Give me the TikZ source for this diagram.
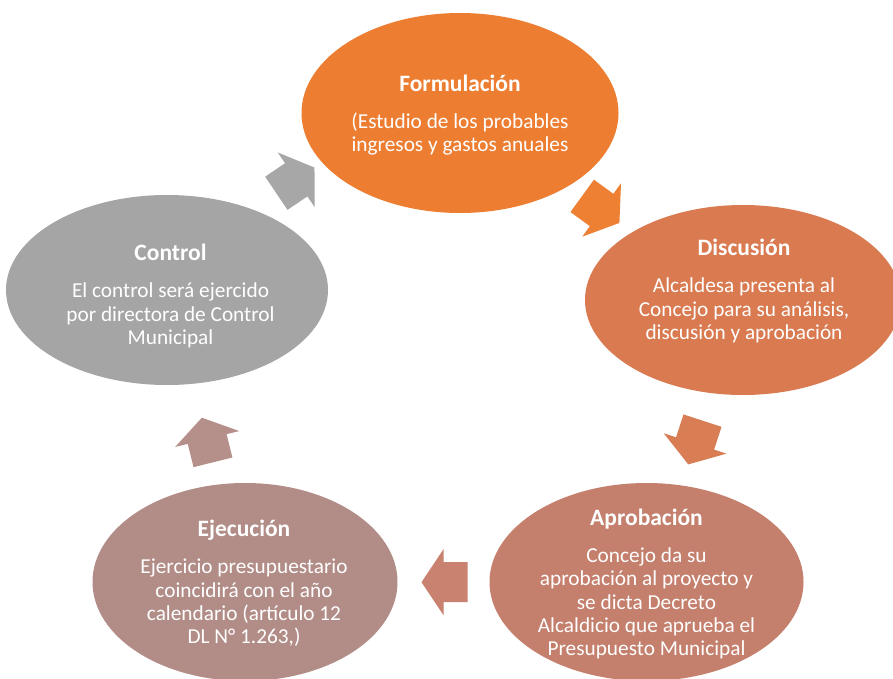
\documentclass[tikz,border=0pt]{standalone}
\usepackage{fontspec}
\setmainfont{Carlito}
\usetikzlibrary{shapes.geometric}
\definecolor{cF}{HTML}{ED7D31}
\definecolor{cD}{HTML}{D97A50}
\definecolor{cA}{HTML}{C47F6D}
\definecolor{cE}{HTML}{B28D87}
\definecolor{cC}{HTML}{A5A5A5}
\definecolor{aF}{HTML}{EE8033}
\definecolor{aD}{HTML}{D97D55}
\definecolor{aA}{HTML}{C8826F}
\definecolor{aE}{HTML}{B58F8A}
\definecolor{aC}{HTML}{A7A7A7}
\tikzset{
  phase/.style={ellipse, inner sep=0pt, draw=none},
  phasetext/.style={text=white, align=center, inner sep=0pt,
    font=\fontsize{21.3}{23.3}\selectfont},
  blockarrow/.pic={\path[pic actions] (-23,-20) -- (1,-20) -- (1,-33) -- (23,0)
     -- (1,33) -- (1,20) -- (-23,20) -- cycle;}
}
\newcommand{\ttl}[1]{{\fontsize{23.5}{23.3}\selectfont\bfseries #1}\\[14pt]}
\begin{document}
\begin{tikzpicture}[x=1pt,y=-1pt]
\useasboundingbox (0,0) rectangle (893,679);
\clip (0,0) rectangle (893,679);
\fill[white] (0,0) rectangle (893,679);
% ellipses
\node[phase, fill=cF, minimum width=317pt, minimum height=200pt] (F) at (460,113) {};
\node[phase, fill=cD, minimum width=316pt, minimum height=190pt] (D) at (743,300) {};
\node[phase, fill=cA, minimum width=314pt, minimum height=198pt] (A) at (646.5,582) {};
\node[phase, fill=cE, minimum width=305pt, minimum height=198pt] (E) at (245,582) {};
\node[phase, fill=cC, minimum width=322pt, minimum height=190pt] (C) at (167,290) {};
% texts
\node[phasetext] (Ft) at (460,115) {\ttl{Formulación}(Estudio de los probables\\ingresos y gastos anuales};
\node[phasetext] (Dt) at (744,291) {\ttl{Discusión}Alcaldesa presenta al\\Concejo para su análisis,\\discusión y aprobación};
\node[phasetext] (At) at (646.5,584) {\ttl{Aprobación}Concejo da su\\aprobación al proyecto y\\se dicta Decreto\\Alcaldicio que aprueba el\\Presupuesto Municipal};
\node[phasetext] (Et) at (244,583.5) {\ttl{Ejecución}Ejercicio presupuestario\\coincidirá con el año\\calendario (artículo 12\\DL N° 1.263,)};
\node[phasetext] (Ct) at (170.5,296) {\ttl{Control}El control será ejercido\\por directora de Control\\Municipal};
% arrows
\pic[fill=aC, rotate=34] at (295.4,180.4) {blockarrow};
\pic[fill=aF, rotate=-36] at (600.8,209.4) {blockarrow};
\pic[fill=aD, rotate=-108] at (695.4,442.5) {blockarrow};
\pic[fill=aA, rotate=180] at (444.5,582.2) {blockarrow};
\pic[fill=aE, rotate=104] at (207.4,440) {blockarrow};
\end{tikzpicture}
\end{document}
